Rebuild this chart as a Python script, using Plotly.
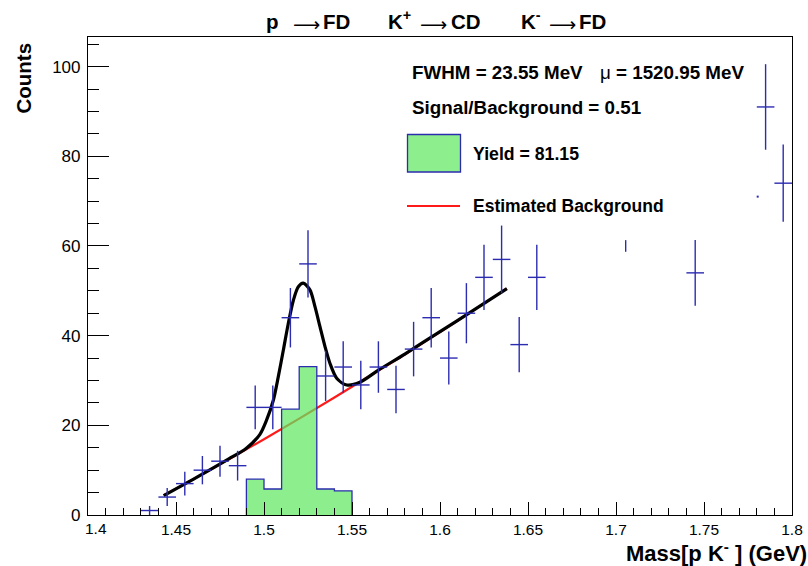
import plotly.graph_objects as go

# ---------------- data ----------------
bin_centers = [1.435, 1.445, 1.455, 1.465, 1.475, 1.485, 1.495, 1.505, 1.515, 1.525,
               1.535, 1.545, 1.555, 1.565, 1.575, 1.585, 1.595, 1.605, 1.615, 1.625,
               1.635, 1.645, 1.655, 1.745, 1.785, 1.795]
counts = [1, 4, 7, 10, 12, 11, 24, 24, 44, 56,
          31, 33, 29, 33, 28, 37, 44, 35, 45, 53,
          57, 38, 53, 54, 91, 74]
count_errors = [1.0, 2.0, 2.65, 3.16, 3.46, 3.32, 4.9, 4.9, 6.63, 7.48,
                5.57, 5.74, 5.39, 5.74, 5.29, 6.08, 6.63, 5.92, 6.71, 7.28,
                7.55, 6.16, 7.28, 7.35, 9.54, 8.6]
bin_half_width = 0.005

# stray marks visible in the reference
stray_seg_x = [1.7055]
stray_seg_y = [60.0]
stray_seg_err = [1.3]
stray_dot_x = [1.7805]
stray_dot_y = [71.0]

# signal histogram (data minus background)
signal_edges = [1.49, 1.50, 1.51, 1.52, 1.53, 1.54, 1.55, 1.56]
signal_values = [8.0, 5.8, 23.6, 33.1, 5.8, 5.4, 0.0]

# estimated background curve
bkg_x = [1.443, 1.46, 1.48, 1.50, 1.52, 1.54, 1.56, 1.58, 1.60, 1.62, 1.638]
bkg_y = [4.4, 8.0, 12.4, 16.9, 21.5, 26.2, 31.0, 35.8, 40.8, 45.9, 50.5]

# total fit curve
fit_x = [1.443, 1.46, 1.48, 1.49, 1.4977, 1.5015, 1.5053, 1.5081, 1.511, 1.5138,
         1.5167, 1.5195, 1.5223, 1.5261, 1.529, 1.5318, 1.5347, 1.5375, 1.5413,
         1.547, 1.5545, 1.565, 1.58, 1.60, 1.62, 1.638]
fit_y = [4.3, 8.0, 12.5, 14.9, 18.0, 21.2, 25.6, 30.8, 36.8, 42.7,
         47.9, 50.9, 51.7, 50.2, 46.4, 42.0, 37.5, 33.8, 30.5,
         29.0, 29.6, 32.3, 35.9, 40.9, 45.9, 50.5]

x_tick_vals = [1.45, 1.5, 1.55, 1.6, 1.65, 1.7, 1.75, 1.8]
x_tick_text = ["1.45", "1.5", "1.55", "1.6", "1.65", "1.7", "1.75", "1.8"]
first_x_label = "1.4"
y_tick_vals = [0, 20, 40, 60, 80, 100]

# title pieces: (text, left/center pixel x, is_arrow)
title_pieces = [("p", 264, False), ("⟶", 306.5, True), ("FD", 321, False),
                ("K<sup>+</sup>", 386, False), ("⟶", 433.5, True), ("CD", 449, False),
                ("K<sup>-</sup>", 519, False), ("⟶", 562.5, True), ("FD", 577, False)]
fwhm_text = "<b>FWHM = 23.55 MeV</b>"
mu_text = "μ<b> = 1520.95 MeV</b>"
sb_text = "<b>Signal/Background = 0.51</b>"
yield_text = "<b>Yield = 81.15</b>"
bkg_text = "<b>Estimated Background</b>"
x_title = "<b>Mass[p K<sup>-</sup> ] (GeV)</b>"
y_title = "<b>Counts</b>"

# ---------------- styling ----------------
W, H = 808, 566
L, R, T, B = 88, 792, 37, 515
FONT = "Liberation Sans, Arial, Helvetica, sans-serif"
BLUE = "#2c2cb0"
GREEN_FILL = "rgba(95,232,95,0.72)"


def px(x):
    return (x - L) / (R - L)


def py(y):
    return (B - y) / (B - T)


fig = go.Figure()

# background line (under the green histogram)
fig.add_trace(go.Scatter(x=bkg_x, y=bkg_y, mode="lines",
                         line=dict(color="#ff1a1a", width=2.2, shape="spline"),
                         hoverinfo="skip", showlegend=False))

# signal histogram
hx = [signal_edges[0]] + signal_edges
hy = [0.0] + signal_values
fig.add_trace(go.Scatter(x=hx, y=hy, mode="lines",
                         line=dict(color=BLUE, width=1.3, shape="hv"),
                         fill="tozeroy", fillcolor=GREEN_FILL,
                         hoverinfo="skip", showlegend=False))

# fit curve
fig.add_trace(go.Scatter(x=fit_x, y=fit_y, mode="lines",
                         line=dict(color="black", width=3.2, shape="spline", smoothing=0.8),
                         hoverinfo="skip", showlegend=False))

# data crosses
fig.add_trace(go.Scatter(
    x=bin_centers, y=counts, mode="markers",
    marker=dict(size=0.1, color=BLUE),
    error_x=dict(type="data", array=[bin_half_width] * len(bin_centers),
                 color=BLUE, thickness=1.4, width=0),
    error_y=dict(type="data", array=count_errors, color=BLUE, thickness=1.4, width=0),
    hoverinfo="skip", showlegend=False))

# stray marks
fig.add_trace(go.Scatter(
    x=stray_seg_x, y=stray_seg_y, mode="markers",
    marker=dict(size=0.1, color=BLUE),
    error_y=dict(type="data", array=stray_seg_err, color=BLUE, thickness=1.4, width=0),
    hoverinfo="skip", showlegend=False))
fig.add_trace(go.Scatter(
    x=stray_dot_x, y=stray_dot_y, mode="markers",
    marker=dict(size=2, color=BLUE, symbol="square"),
    hoverinfo="skip", showlegend=False))

annotations = []
for txt, xpos, is_arrow in title_pieces:
    if is_arrow:
        annotations.append(dict(
            text=txt, x=px(xpos), y=py(23.5), xref="paper", yref="paper",
            xanchor="center", yanchor="middle", showarrow=False,
            font=dict(family="DejaVu Sans", size=19, color="black")))
    else:
        annotations.append(dict(
            text="<b>" + txt + "</b>", x=px(xpos), y=py(34.5), xref="paper", yref="paper",
            xanchor="left", yanchor="bottom", showarrow=False,
            font=dict(family=FONT, size=20.5, color="black")))

annotations += [
    dict(text=first_x_label, x=px(95.5), y=py(528), xref="paper", yref="paper",
         xanchor="center", yanchor="middle", showarrow=False,
         font=dict(family=FONT, size=15.5, color="black")),
    dict(text=fwhm_text, x=px(410), y=py(73), xref="paper", yref="paper",
         xanchor="left", yanchor="middle", showarrow=False,
         font=dict(family=FONT, size=18.8, color="black")),
    dict(text=mu_text, x=px(597.5), y=py(73), xref="paper", yref="paper",
         xanchor="left", yanchor="middle", showarrow=False,
         font=dict(family=FONT, size=18.8, color="black")),
    dict(text=sb_text, x=px(410), y=py(108), xref="paper", yref="paper",
         xanchor="left", yanchor="middle", showarrow=False,
         font=dict(family=FONT, size=18.8, color="black")),
    dict(text=yield_text, x=px(471), y=py(154), xref="paper", yref="paper",
         xanchor="left", yanchor="middle", showarrow=False,
         font=dict(family=FONT, size=17.7, color="black")),
    dict(text=bkg_text, x=px(471), y=py(205.5), xref="paper", yref="paper",
         xanchor="left", yanchor="middle", showarrow=False,
         font=dict(family=FONT, size=17.5, color="black")),
    dict(text=x_title, x=px(809), y=py(552), xref="paper", yref="paper",
         xanchor="right", yanchor="middle", showarrow=False,
         font=dict(family=FONT, size=22, color="black")),
    dict(text=y_title, x=px(23), y=py(41), xref="paper", yref="paper",
         xanchor="center", yanchor="top", showarrow=False, textangle=-90,
         font=dict(family=FONT, size=20.5, color="black")),
]

shapes = [
    dict(type="rect", xref="paper", yref="paper",
         x0=px(407.5), x1=px(460.5), y0=py(172), y1=py(134.5),
         line=dict(color=BLUE, width=1.3), fillcolor=GREEN_FILL, layer="above"),
    dict(type="line", xref="paper", yref="paper",
         x0=px(407), x1=px(460), y0=py(206), y1=py(206),
         line=dict(color="#ff1a1a", width=2.2), layer="above"),
]

fig.update_layout(
    template="none",
    width=W, height=H,
    margin=dict(l=L, r=W - R, t=T, b=H - B, pad=0, autoexpand=False),
    paper_bgcolor="white", plot_bgcolor="white",
    showlegend=False,
    font=dict(family=FONT, color="black"),
    annotations=annotations, shapes=shapes,
    xaxis=dict(range=[1.4, 1.8], tickmode="array", tickvals=x_tick_vals, ticktext=x_tick_text,
               automargin=False,
               ticks="inside", ticklen=13, tickwidth=1, tickcolor="black",
               minor=dict(dtick=0.01, tick0=1.4, ticks="inside", ticklen=7, tickwidth=1,
                          tickcolor="black", showgrid=False),
               showgrid=False, zeroline=False, showline=True, linecolor="black",
               linewidth=1.2, mirror=True, tickfont=dict(family=FONT, size=15.5, color="black")),
    yaxis=dict(range=[0, 106.6], tickmode="array", tickvals=y_tick_vals,
               automargin=False, ticklabelstandoff=3,
               ticks="inside", ticklen=21, tickwidth=1, tickcolor="black",
               minor=dict(dtick=5, tick0=0, ticks="inside", ticklen=11, tickwidth=1,
                          tickcolor="black", showgrid=False),
               showgrid=False, zeroline=False, showline=True, linecolor="black",
               linewidth=1.2, mirror=True, tickfont=dict(family=FONT, size=17, color="black")),
)

fig.write_html("out.html")
